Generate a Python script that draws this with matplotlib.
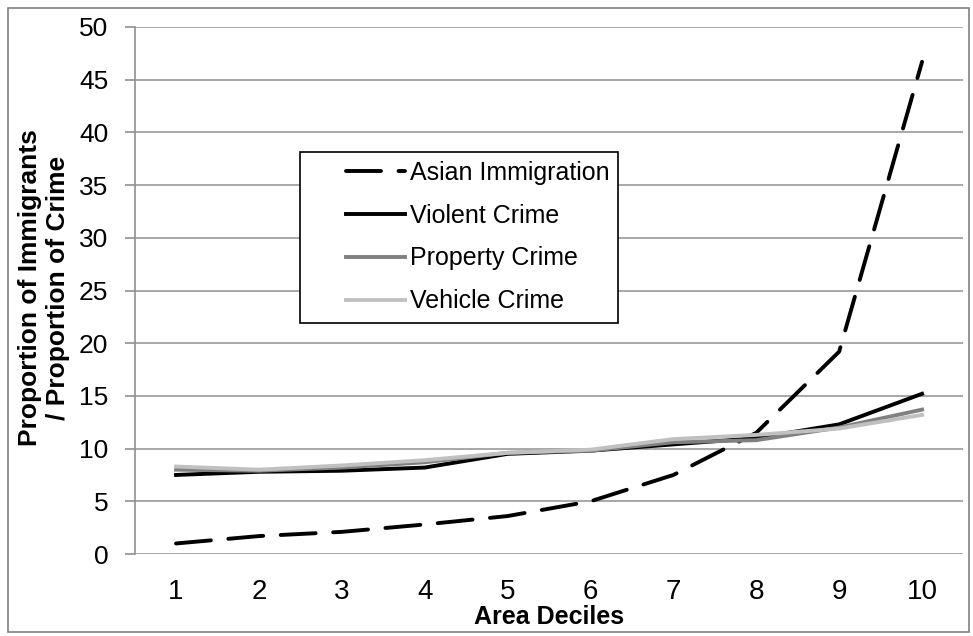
import matplotlib
matplotlib.use('Agg')
import matplotlib.pyplot as plt
from matplotlib.patches import Rectangle

plt.rcParams['font.family'] = ['Liberation Sans', 'DejaVu Sans']

deciles = [1, 2, 3, 4, 5, 6, 7, 8, 9, 10]
asian = [1.0, 1.7, 2.1, 2.8, 3.6, 5.0, 7.5, 11.5, 19.2, 46.7]
violent = [7.5, 7.8, 7.9, 8.2, 9.5, 9.8, 10.4, 11.0, 12.3, 15.2]
property_ = [8.0, 7.9, 8.2, 8.7, 9.6, 9.8, 10.6, 10.8, 12.0, 13.7]
vehicle = [8.3, 8.0, 8.4, 8.9, 9.6, 9.9, 10.9, 11.3, 11.9, 13.2]
yticks = [0, 5, 10, 15, 20, 25, 30, 35, 40, 45, 50]

W, H = 973, 636
fig = plt.figure(figsize=(9.73, 6.36), dpi=100)
ax = fig.add_axes([134.6 / W, 1 - 554 / H, (963.5 - 134.6) / W, (554 - 27) / H])

# outer frame of the picture
fig.patches.append(Rectangle((8 / W, 4 / H), 961 / W, 624 / H, transform=fig.transFigure,
                             fill=False, edgecolor='#808080', linewidth=1.2))

ax.plot(deciles, asian, color='black', lw=2.8, dashes=(9, 4.5), dash_capstyle='round',
        label='Asian Immigration')
ax.plot(deciles, violent, color='black', lw=2.8, label='Violent Crime')
ax.plot(deciles, property_, color='#808080', lw=2.8, label='Property Crime')
ax.plot(deciles, vehicle, color='#c0c0c0', lw=2.8, label='Vehicle Crime')

ax.set_xlim(0.5, 10.5)
ax.set_ylim(0, 50)
ax.set_yticks(yticks)
ax.set_xticks(deciles)
ax.grid(axis='y', color='#a0a0a0', lw=1.3)
ax.set_axisbelow(True)
for s in ['top', 'right', 'bottom']:
    ax.spines[s].set_visible(False)
ax.spines['left'].set_color('#909090')
ax.spines['left'].set_linewidth(1.2)
ax.tick_params(axis='y', length=7, color='#909090', width=1.2, labelsize=19, pad=12)
ax.tick_params(axis='x', length=0, labelsize=20, pad=18)

fig.text(549 / W, 1 - 617 / H, 'Area Deciles', fontsize=18, fontweight='bold',
         ha='center', va='center')
fig.text(44 / W, 1 - 288 / H, 'Proportion of Immigrants\n/ Proportion of Crime', fontsize=19,
         fontweight='bold', rotation=90, ha='center', va='center', linespacing=1.2)

# legend box (drawn inside the axes so the legend sits on top of it)
box = Rectangle((300 / W, 1 - 323 / H), 318 / W, 171 / H, transform=fig.transFigure,
                facecolor='white', edgecolor='black', linewidth=1.2, zorder=4, clip_on=False)
ax.add_patch(box)
leg = ax.legend(loc='upper left', bbox_to_anchor=(346 / W, 1 - 161 / H), bbox_transform=fig.transFigure,
                fontsize=18, frameon=False, handlelength=2.36, handletextpad=0.2,
                labelspacing=0.75, borderpad=0, borderaxespad=0)
leg.set_zorder(5)

fig.savefig('out.png', dpi=100)
